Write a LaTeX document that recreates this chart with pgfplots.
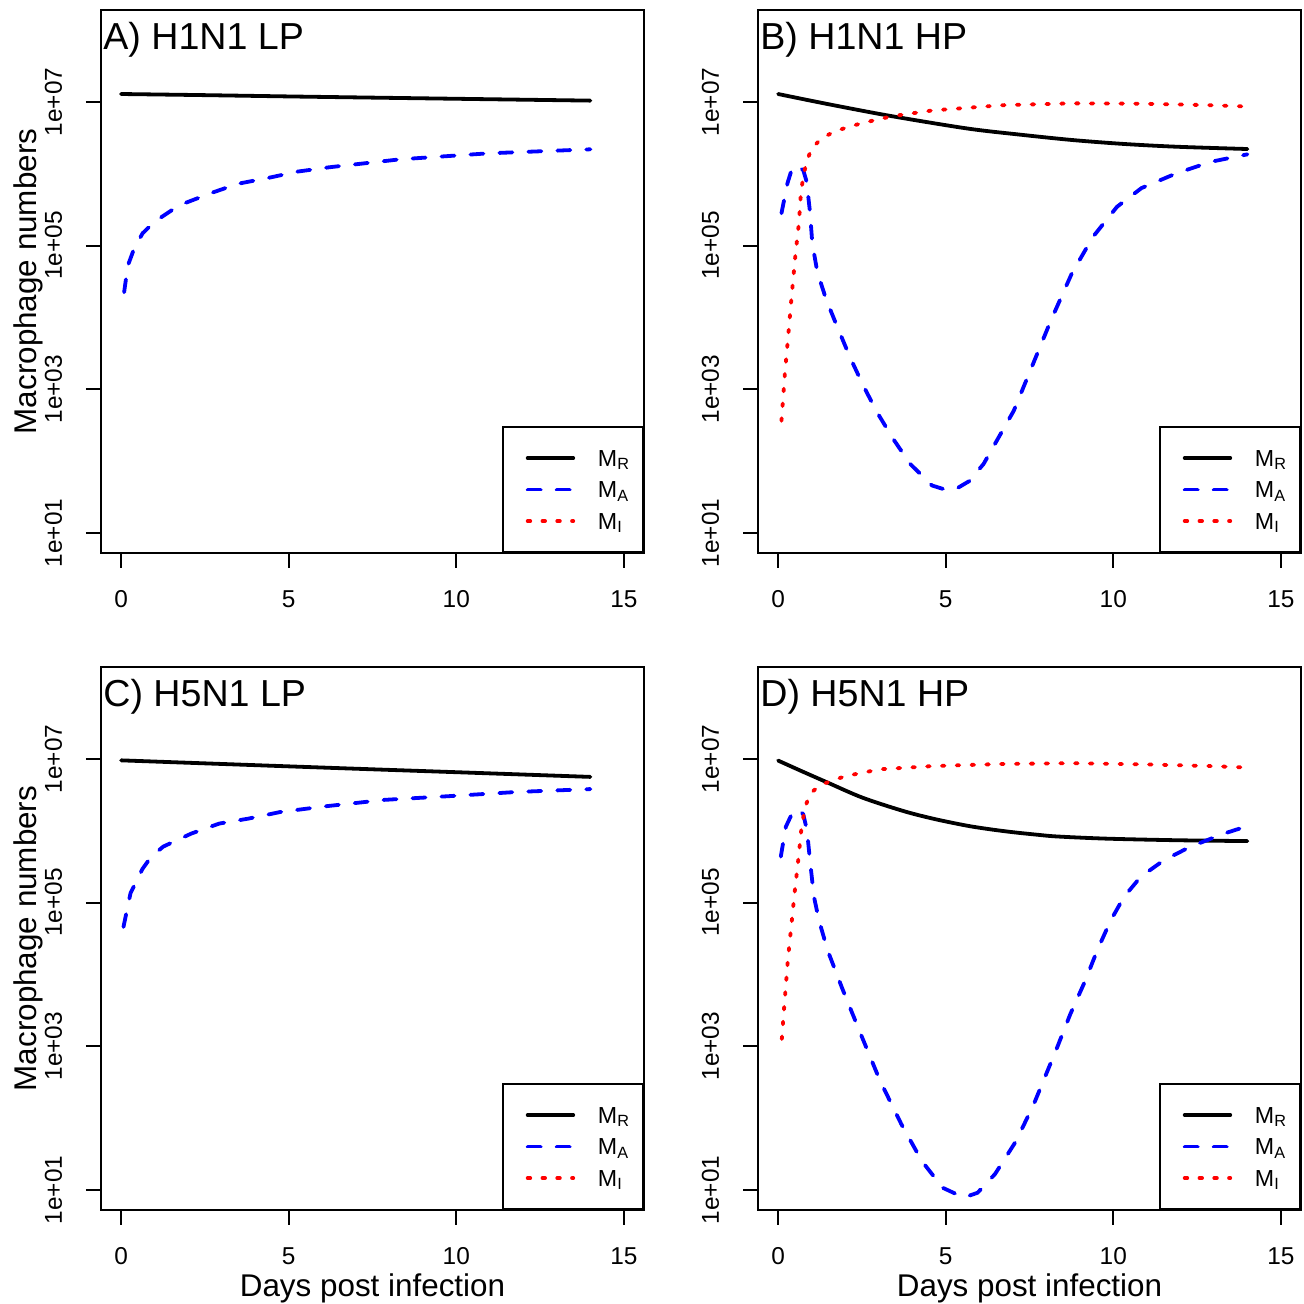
\documentclass[border=0pt]{standalone}
\usepackage{fontspec}
\setmainfont{Liberation Sans}
\usepackage{pgfplots}
\pgfplotsset{compat=1.18}

\newcommand{\tickfont}{\fontsize{12.2}{14}\selectfont}
\newcommand{\legfont}{\fontsize{11.6}{13}\selectfont}
\newcommand{\labfont}{\fontsize{15.7}{18}\selectfont}

\tikzset{
  mr/.style={black, line width=1.9pt, line cap=round, line join=round},
  ma/.style={blue, line width=1.9pt, line cap=round, line join=round, dash pattern=on 6.5pt off 8pt},
  mi/.style={red, line width=1.9pt, line cap=round, line join=round, dash pattern=on 1.3pt off 6.1pt},
  mytitle/.style={anchor=base west, inner sep=0pt, xshift=1pt, yshift=-19.65pt,
    font=\fontsize{18.8}{22}\selectfont},
}

\begin{document}
\begin{tikzpicture}
\useasboundingbox (0,0) rectangle (651.5pt,652pt);

% A) H1N1 LP
\begin{axis}[at={(50.5pt,375.5pt)}, anchor=south west,
    scale only axis, width=271.5pt, height=271.5pt,
    xmin=-0.6, xmax=15.6, ymode=log, ymin=5.248, ymax=1.905e8,
    xtick={0,5,10,15}, xticklabels={0,5,10,15},
    ytick={1e1,1e3,1e5,1e7}, yticklabels={1e+01,1e+03,1e+05,1e+07},
    yminorticks=false, tick pos=left, tick align=outside,
    major tick length=7.5pt, major tick style={black, line width=1pt},
    axis line style={line width=1pt},
    xticklabel style={font=\tickfont, anchor=north, inner sep=0pt, yshift=-11pt},
    yticklabel style={font=\tickfont, rotate=90, anchor=south, inner sep=0pt, outer ysep=12pt},
    legend cell align=left,
    legend style={at={(1,0)}, anchor=south east, draw=black, line width=1pt,
      fill=white, inner xsep=6.5pt, inner ysep=7.6pt, row sep=0pt, font=\legfont,
      nodes={font=\legfont, inner sep=0pt, minimum height=15.75pt, text depth=0pt}},
    legend image code/.code={\path[draw=none, fill=none] (0pt,0pt) -- (41pt,0pt);
      \draw[#1] (5.85pt,0pt) -- (28.65pt,0pt);},
  ]
\addplot[mr, smooth] coordinates {(0,1.288e7) (2.5,1.242e7) (5.3,1.186e7) (9,1.122e7) (14,1.042e7)};
\addplot[ma] coordinates {(0.09,2.239e4) (0.2,5.25e4) (0.39,9.12e4) (0.64,1.479e5) (0.99,2.138e5)
  (1.73,3.631e5) (2.68,5.370e5) (3.48,7.244e5) (4.37,8.710e5) (5.27,1.072e6) (6.21,1.230e6)
  (8.31,1.585e6) (10.95,1.923e6) (14,2.188e6)};
\addlegendimage{mi}
\legend{M\textsubscript{R}, M\textsubscript{A}, M\textsubscript{I}}
\node[mytitle] at (rel axis cs:0,1) {A) H1N1 LP};
\end{axis}

% B) H1N1 HP
\begin{axis}[at={(379pt,375.5pt)}, anchor=south west,
    scale only axis, width=271.5pt, height=271.5pt,
    xmin=-0.6, xmax=15.6, ymode=log, ymin=5.248, ymax=1.905e8,
    xtick={0,5,10,15}, xticklabels={0,5,10,15},
    ytick={1e1,1e3,1e5,1e7}, yticklabels={1e+01,1e+03,1e+05,1e+07},
    yminorticks=false, tick pos=left, tick align=outside,
    major tick length=7.5pt, major tick style={black, line width=1pt},
    axis line style={line width=1pt},
    xticklabel style={font=\tickfont, anchor=north, inner sep=0pt, yshift=-11pt},
    yticklabel style={font=\tickfont, rotate=90, anchor=south, inner sep=0pt, outer ysep=12pt},
    legend cell align=left,
    legend style={at={(1,0)}, anchor=south east, draw=black, line width=1pt,
      fill=white, inner xsep=6.5pt, inner ysep=7.6pt, row sep=0pt, font=\legfont,
      nodes={font=\legfont, inner sep=0pt, minimum height=15.75pt, text depth=0pt}},
    legend image code/.code={\path[draw=none, fill=none] (0pt,0pt) -- (41pt,0pt);
      \draw[#1] (5.85pt,0pt) -- (28.65pt,0pt);},
  ]
\addplot[mr, smooth] coordinates {(0,1.288e7) (1.48,9.33e6) (3.35,6.38e6) (5.64,4.266e6) (7.2,3.508e6)
  (8.76,2.951e6) (10.3,2.60e6) (11.88,2.377e6) (14,2.208e6)};
\addplot[ma] coordinates {(0.1,2.818e5) (0.28,7.413e5) (0.40,1.122e6) (0.55,1.318e6) (0.75,1.122e6)
  (0.85,7.762e5) (0.95,2.951e5) (1.02,1.072e5) (1.17,4.266e4) (1.44,1.738e4) (1.79,6918)
  (2.14,2818) (2.54,1122) (2.95,478.6) (3.43,204.2) (3.94,91.2) (4.59,45.7) (5.0,39.8)
  (5.3,40.7) (5.7,52.5) (6.13,91.2) (6.58,213.8) (7.03,501.2) (7.48,1622) (8.14,9120)
  (8.76,4.074e4) (9.39,1.318e5) (10.11,3.467e5) (10.84,6.310e5) (11.88,1.012e6)
  (12.92,1.469e6) (14,1.862e6)};
\addplot[mi] coordinates {(0.10,363) (0.20,1622) (0.28,4266) (0.40,1.905e4) (0.52,7.762e4)
  (0.62,2.042e5) (0.68,5.370e5) (0.75,9.12e5) (0.85,1.479e6) (1.0,2.239e6) (1.29,3.090e6)
  (1.69,3.890e6) (2.19,4.624e6) (2.69,5.309e6) (3.39,6.310e6) (4.58,7.586e6) (6.68,8.995e6)
  (8.76,9.55e6) (10.84,9.44e6) (12.92,8.995e6) (14,8.61e6)};
\legend{M\textsubscript{R}, M\textsubscript{A}, M\textsubscript{I}}
\node[mytitle] at (rel axis cs:0,1) {B) H1N1 HP};
\end{axis}

% C) H5N1 LP
\begin{axis}[at={(50.5pt,47pt)}, anchor=south west,
    scale only axis, width=271.5pt, height=271.5pt,
    xmin=-0.6, xmax=15.6, ymode=log, ymin=5.248, ymax=1.905e8,
    xtick={0,5,10,15}, xticklabels={0,5,10,15},
    ytick={1e1,1e3,1e5,1e7}, yticklabels={1e+01,1e+03,1e+05,1e+07},
    yminorticks=false, tick pos=left, tick align=outside,
    major tick length=7.5pt, major tick style={black, line width=1pt},
    axis line style={line width=1pt},
    xticklabel style={font=\tickfont, anchor=north, inner sep=0pt, yshift=-11pt},
    yticklabel style={font=\tickfont, rotate=90, anchor=south, inner sep=0pt, outer ysep=12pt},
    legend cell align=left,
    legend style={at={(1,0)}, anchor=south east, draw=black, line width=1pt,
      fill=white, inner xsep=6.5pt, inner ysep=7.6pt, row sep=0pt, font=\legfont,
      nodes={font=\legfont, inner sep=0pt, minimum height=15.75pt, text depth=0pt}},
    legend image code/.code={\path[draw=none, fill=none] (0pt,0pt) -- (41pt,0pt);
      \draw[#1] (5.85pt,0pt) -- (28.65pt,0pt);},
  ]
\addplot[mr, smooth] coordinates {(0,9.55e6) (3.3,8.41e6) (6.61,7.41e6) (10.3,6.46e6) (14,5.62e6)};
\addplot[ma] coordinates {(0.07,4.571e4) (0.28,1.349e5) (0.64,2.951e5) (0.9,4.365e5) (1.26,6.026e5)
  (2.09,9.12e5) (2.93,1.259e6) (3.81,1.479e6) (4.74,1.820e6) (6.09,2.188e6) (7.86,2.692e6)
  (9.73,3.020e6) (11.8,3.467e6) (14,3.802e6)};
\addlegendimage{mi}
\legend{M\textsubscript{R}, M\textsubscript{A}, M\textsubscript{I}}
\node[mytitle] at (rel axis cs:0,1) {C) H5N1 LP};
\end{axis}

% D) H5N1 HP
\begin{axis}[at={(379pt,47pt)}, anchor=south west,
    scale only axis, width=271.5pt, height=271.5pt,
    xmin=-0.6, xmax=15.6, ymode=log, ymin=5.248, ymax=1.905e8,
    xtick={0,5,10,15}, xticklabels={0,5,10,15},
    ytick={1e1,1e3,1e5,1e7}, yticklabels={1e+01,1e+03,1e+05,1e+07},
    yminorticks=false, tick pos=left, tick align=outside,
    major tick length=7.5pt, major tick style={black, line width=1pt},
    axis line style={line width=1pt},
    xticklabel style={font=\tickfont, anchor=north, inner sep=0pt, yshift=-11pt},
    yticklabel style={font=\tickfont, rotate=90, anchor=south, inner sep=0pt, outer ysep=12pt},
    legend cell align=left,
    legend style={at={(1,0)}, anchor=south east, draw=black, line width=1pt,
      fill=white, inner xsep=6.5pt, inner ysep=7.6pt, row sep=0pt, font=\legfont,
      nodes={font=\legfont, inner sep=0pt, minimum height=15.75pt, text depth=0pt}},
    legend image code/.code={\path[draw=none, fill=none] (0pt,0pt) -- (41pt,0pt);
      \draw[#1] (5.85pt,0pt) -- (28.65pt,0pt);},
  ]
\addplot[mr, smooth] coordinates {(0,9.484e6) (0.7,6.761e6) (1.48,4.677e6) (2.52,2.884e6) (3.77,1.862e6)
  (4.7,1.445e6) (5.64,1.175e6) (6.33,1.047e6) (7.0,9.55e5) (7.72,8.81e5) (8.33,8.318e5)
  (9.8,7.762e5) (11.88,7.379e5) (14,7.178e5)};
\addplot[ma] coordinates {(0.08,4.365e5) (0.23,1.135e6) (0.44,1.841e6) (0.6,1.995e6) (0.75,1.698e6)
  (0.86,1.023e6) (0.96,3.508e5) (1.07,1.202e5) (1.22,5.623e4) (1.48,2.138e4) (1.9,6607)
  (2.42,1660) (3.04,331.1) (3.67,83.2) (4.29,25.1) (4.91,10.7) (5.54,7.82) (5.95,9.12)
  (6.47,16.6) (7.1,47.9) (7.63,157) (8.33,977) (8.72,2818) (9.17,8318) (9.52,2.163e4)
  (9.92,5.623e4) (10.32,1.202e5) (10.82,2.291e5) (11.51,3.890e5) (12.31,6.026e5)
  (13.30,9.12e5) (14,1.161e6)};
\addplot[mi] coordinates {(0.11,1259) (0.18,3467) (0.29,1.585e4) (0.39,4.571e4) (0.49,1.349e5)
  (0.6,3.890e5) (0.70,1.135e6) (0.81,2.163e6) (0.96,3.311e6) (1.27,4.365e6) (2.0,5.754e6)
  (3.04,7.178e6) (4.6,7.943e6) (6.68,8.511e6) (8.76,8.710e6) (10.84,8.414e6) (12.92,7.943e6)
  (14,7.586e6)};
\legend{M\textsubscript{R}, M\textsubscript{A}, M\textsubscript{I}}
\node[mytitle] at (rel axis cs:0,1) {D) H5N1 HP};
\end{axis}

\node[rotate=90, anchor=base, font=\labfont] at (18pt,511.25pt) {Macrophage numbers};
\node[rotate=90, anchor=base, font=\labfont] at (18pt,182.75pt) {Macrophage numbers};
\node[anchor=base, font=\labfont] at (186.25pt,4pt) {Days post infection};
\node[anchor=base, font=\labfont] at (514.75pt,4pt) {Days post infection};
\end{tikzpicture}
\end{document}
